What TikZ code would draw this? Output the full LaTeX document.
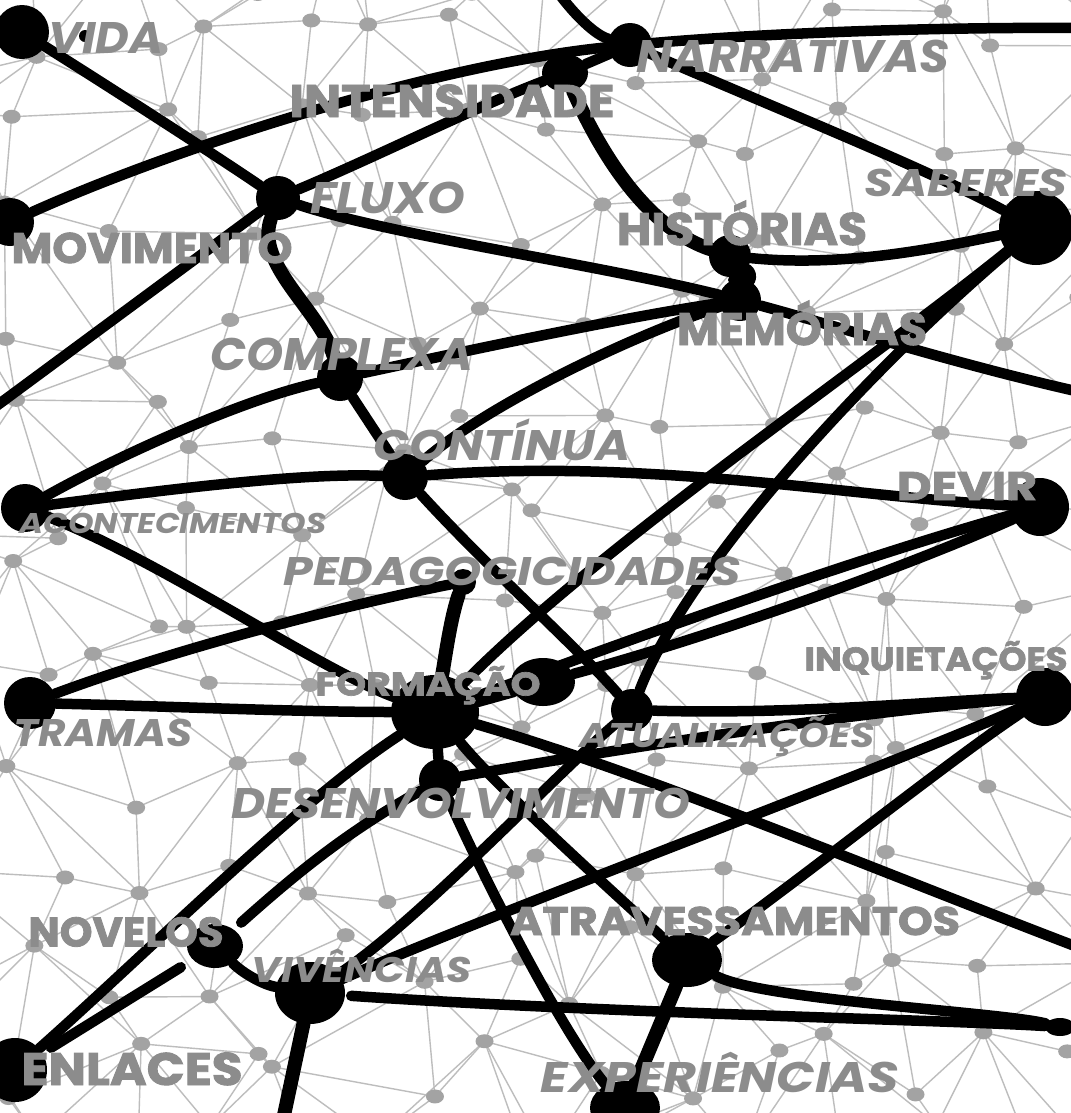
\documentclass[tikz,border=0pt]{standalone}
\usepackage{fontspec}
\usepackage{graphicx}
\usetikzlibrary{shapes.geometric}
\newfontfamily\lblfont{Poppins}[BoldFeatures={FakeBold=2}]
\definecolor{lblgray}{HTML}{8C8C8C}
\definecolor{meshgray}{HTML}{BDBDBD}
\definecolor{dotgray}{HTML}{A3A3A3}
\newlength\pxu
\setlength\pxu{0.02cm}
% stretch a label to a given width and cap height (in px)
\newcommand{\fitbox}[3]{\resizebox{#1\pxu}{#2\pxu}{\smash{#3}\vphantom{I}}}

\tikzset{
  mesh/.style={draw=meshgray, line width=1.4\pxu},
  meshdot/.style={fill=dotgray},
  wire/.style={line width=10.5\pxu, line cap=round, line join=round},
  fat/.style={line width=14\pxu, line cap=round, line join=round},
  blob/.style={circle, fill=black, inner sep=0pt, minimum size=#1\pxu},
  oval/.style 2 args={ellipse, fill=black, inner sep=0pt, minimum width=#1\pxu, minimum height=#2\pxu},
  lbl/.style={text=lblgray, font=\lblfont\bfseries, inner sep=0pt},
}

\begin{document}
\begin{tikzpicture}[x=0.02cm, y=-0.02cm]
    \useasboundingbox (0,0) rectangle (1071,1113);
    \clip (0,0) rectangle (1071,1113);
    \fill[white] (0,0) rectangle (1071,1113);

    % background net
    \pgfmathsetseed{42}
    \foreach \i in {0,...,13}{
        \foreach \j in {0,...,13}{
            \pgfmathsetmacro{\mx}{-45+88*\i+80*rnd-40}
            \pgfmathsetmacro{\my}{-45+92*\j+80*rnd-40}
            \coordinate (m-\i-\j) at (\mx,\my);
        }
    }
    \foreach \i [evaluate=\i as \ii using int(\i+1)] in {0,...,12}{
        \foreach \j [evaluate=\j as \jj using int(\j+1)] in {0,...,12}{
            \draw[mesh] (m-\i-\j) -- (m-\ii-\j) (m-\i-\j) -- (m-\i-\jj);
            \ifodd\numexpr\i+\j\relax
                \draw[mesh] (m-\ii-\j) -- (m-\i-\jj);
            \else
                \draw[mesh] (m-\i-\j) -- (m-\ii-\jj);
            \fi
        }
    }
    \foreach \i in {0,...,13}{
        \foreach \j in {0,...,13}{
            \fill[meshdot] (m-\i-\j) ellipse [x radius=9, y radius=7];
        }
    }

    % knots
    \node[blob=54] (vida) at (22,32) {};
    \node[blob=12] (vidadot) at (85,36) {};
    \node[blob=48] (movimento) at (10,222) {};
    \node[blob=44] (fluxo) at (278,198) {};
    \node[oval={46}{38}] (intensidade) at (565,73) {};
    \node[blob=44] (narrativas) at (630,45) {};
    \node[blob=74] (saberes) at (1036,228) {};
    \node[blob=42] (historias) at (730,256) {};
    \node[blob=42] (memorias) at (740,300) {};
    \node[blob=46] (complexa) at (340,378) {};
    \node[blob=46] (continua) at (405,477) {};
    \node[blob=48] (acontecimentos) at (25,508) {};
    \node[blob=58] (devir) at (1040,507) {};
    \node[blob=26] (pedago) at (463,582) {};
    \node[blob=52] (tramas) at (30,703) {};
    \node[oval={88}{74}] (formacao) at (435,712) {};
    \node[oval={64}{48}] (ovalo) at (543,682) {};
    \node[blob=42] (atualizacoes) at (632,710) {};
    \node[blob=58] (inquietacoes) at (1045,697) {};
    \node[blob=42] (desenvolvimento) at (440,780) {};
    \node[oval={56}{44}] (novelos) at (215,946) {};
    \node[oval={70}{62}] (vivencias) at (310,993) {};
    \node[oval={70}{54}] (atravessamentos) at (687,960) {};
    \node[blob=64] (enlaces) at (15,1070) {};
    \node[oval={70}{54}] (experiencias) at (625,1108) {};
    \node[oval={30}{18}] (tail) at (1060,1027) {};

    \coordinate (eTop) at (560,-5);
    \coordinate (eR1) at (1080,28);
    \coordinate (eL1) at (-5,407);
    \coordinate (eR2) at (1080,392);
    \coordinate (eR3) at (1080,948);
    \coordinate (eB1) at (283,1120);

    % threads
    \draw[wire] (vida) .. controls (130,100) and (230,165) .. (fluxo);
    \draw[wire] (movimento) .. controls (170,150) and (430,65) .. (narrativas);
    \draw[wire] (narrativas) .. controls (780,32) and (950,27) .. (eR1);
    \draw[wire] (eTop) .. controls (575,15) and (595,35) .. (narrativas);
    \draw[wire] (intensidade) -- (narrativas);
    \draw[wire] (fluxo) .. controls (380,155) and (480,105) .. (intensidade);
    \draw[wire] (fluxo) -- (eL1);
    \draw[wire] (fluxo) .. controls (390,235) and (600,265) .. (memorias);
    \draw[fat] (fluxo) .. controls (255,265) and (320,310) .. (complexa);
    \draw[fat] (intensidade) .. controls (595,140) and (640,225) .. (historias);
    \draw[wire] (historias) .. controls (745,280) and (735,285) .. (memorias);
    \draw[wire] (historias) to[bend left=40] (memorias);
    \draw[wire] (narrativas) .. controls (780,110) and (930,170) .. (saberes);
    \draw[wire] (historias) .. controls (850,268) and (950,245) .. (saberes);
    \draw[wire] (memorias) .. controls (850,330) and (960,365) .. (eR2);
    \draw[wire] (complexa) .. controls (480,348) and (620,318) .. (memorias);
    \draw[wire] (complexa) .. controls (240,400) and (110,460) .. (acontecimentos);
    \draw[wire] (complexa) -- (continua);
    \draw[wire] (memorias) .. controls (620,340) and (480,410) .. (continua);
    \draw[wire] (continua) .. controls (650,458) and (850,497) .. (devir);
    \draw[wire] (acontecimentos) .. controls (150,492) and (300,472) .. (continua);
    \draw[wire] (continua) .. controls (490,570) and (580,650) .. (atualizacoes);
    \draw[wire] (acontecimentos) .. controls (160,560) and (320,670) .. (formacao);
    \draw[wire] (tramas) .. controls (200,640) and (380,598) .. (pedago);
    \draw[wire] (tramas) .. controls (160,706) and (300,712) .. (formacao);
    \draw[fat] (pedago) .. controls (450,620) and (445,660) .. (formacao);
    \draw[wire] (saberes) .. controls (860,370) and (600,545) .. (formacao);
    \draw[wire] (saberes) .. controls (880,360) and (690,560) .. (atualizacoes);
    \draw[wire] (formacao) .. controls (600,650) and (850,560) .. (devir);
    \draw[wire] (ovalo) .. controls (700,640) and (900,570) .. (devir);
    \draw[fat] (formacao) -- (ovalo);
    \draw[wire] (atualizacoes) .. controls (800,715) and (950,700) .. (inquietacoes);
    \draw[wire] (desenvolvimento) .. controls (600,752) and (850,712) .. (inquietacoes);
    \draw[wire] (formacao) -- (desenvolvimento);
    \draw[wire] (desenvolvimento) .. controls (480,870) and (560,1030) .. (experiencias);
    \draw[wire] (formacao) .. controls (500,790) and (600,880) .. (atravessamentos);
    \draw[wire] (formacao) .. controls (650,775) and (850,860) .. (eR3);
    \draw[wire] (formacao) .. controls (300,800) and (150,950) .. (enlaces);
    \draw[wire, shorten >=10\pxu] (desenvolvimento) .. controls (350,830) and (300,870) .. (novelos);
    \draw[wire, shorten <=14\pxu, shorten >=10\pxu] (novelos) -- (enlaces);
    \draw[wire] (novelos) .. controls (245,975) and (265,985) .. (vivencias);
    \draw[fat] (vivencias) -- (eB1);
    \draw[wire, shorten <=6\pxu] (vivencias) .. controls (600,1013) and (950,1020) .. (tail);
    \draw[wire] (atravessamentos) .. controls (760,1000) and (1000,1012) .. (tail);
    \draw[wire] (atravessamentos) .. controls (800,880) and (950,760) .. (inquietacoes);
    \draw[wire] (vivencias) .. controls (500,910) and (880,770) .. (inquietacoes);
    \draw[wire] (atualizacoes) .. controls (560,770) and (420,920) .. (vivencias);
    \draw[fat] (atravessamentos) -- (experiencias);

    % words
    \node[lbl] (t-vida) at (106,38) {\fitbox{115}{31}{\itshape VIDA}};
    \node[lbl] (t-intensidade) at (452,101) {\fitbox{325}{32}{INTENSIDADE}};
    \node[lbl] (t-narrativas) at (793,56) {\fitbox{313}{32}{\itshape NARRATIVAS}};
    \node[lbl] (t-saberes) at (966,183) {\fitbox{203}{27}{\itshape SABERES}};
    \node[lbl] (t-fluxo) at (388,198) {\fitbox{155}{31}{\itshape FLUXO}};
    \node[lbl] (t-historias) at (742,229) {\fitbox{250}{32}{HISTÓRIAS}};
    \node[lbl] (t-movimento) at (152,248) {\fitbox{281}{30}{MOVIMENTO}};
    \node[lbl] (t-memorias) at (802,329) {\fitbox{250}{32}{MEMÓRIAS}};
    \node[lbl] (t-complexa) at (342,354) {\fitbox{263}{32}{\itshape COMPLEXA}};
    \node[lbl] (t-continua) at (502,445) {\fitbox{257}{30}{\itshape CONTÍNUA}};
    \node[lbl] (t-devir) at (967,486) {\fitbox{140}{28}{DEVIR}};
    \node[lbl] (t-acontecimentos) at (173,523) {\fitbox{307}{20}{\itshape ACONTECIMENTOS}};
    \node[lbl] (t-pedago) at (512,571) {\fitbox{457}{28}{\itshape PEDAGOGICIDADES}};
    \node[lbl] (t-inquietacoes) at (936,659) {\fitbox{263}{23}{INQUIETAÇÕES}};
    \node[lbl] (t-formacao) at (428,684) {\fitbox{225}{23}{FORMAÇÃO}};
    \node[lbl] (t-tramas) at (103,733) {\fitbox{179}{27}{\itshape TRAMAS}};
    \node[lbl] (t-atualizacoes) at (727,735) {\fitbox{295}{24}{\itshape ATUALIZAÇÕES}};
    \node[lbl] (t-desenvolvimento) at (461,803) {\fitbox{458}{30}{\itshape DESENVOLVIMENTO}};
    \node[lbl] (t-atravessamentos) at (735,921) {\fitbox{450}{28}{ATRAVESSAMENTOS}};
    \node[lbl] (t-novelos) at (126,932) {\fitbox{195}{29}{NOVELOS}};
    \node[lbl] (t-vivencias) at (362,970) {\fitbox{220}{25}{\itshape VIVÊNCIAS}};
    \node[lbl] (t-enlaces) at (132,1069) {\fitbox{221}{32}{ENLACES}};
    \node[lbl] (t-experiencias) at (720,1077) {\fitbox{358}{30}{\itshape EXPERIÊNCIAS}};
\end{tikzpicture}
\end{document}
